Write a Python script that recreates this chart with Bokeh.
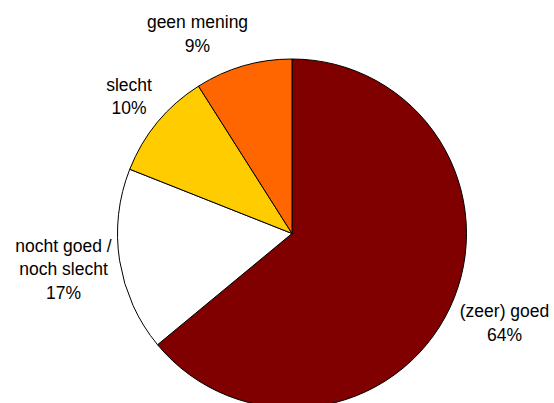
import math
from bokeh.plotting import figure
from bokeh.models import ColumnDataSource, Range1d
from bokeh.core.properties import value
from bokeh.embed import file_html
from bokeh.resources import INLINE

# data
categories = ["(zeer) goed", "nocht goed /\nnoch slecht", "slecht", "geen mening"]
percentages = [64, 17, 10, 9]
colors = ["#800000", "#FFFFFF", "#FFCC00", "#FF6600"]

# layout (screen-pixel based, plot is 1 unit per pixel)
W, H = 554, 403
cx, cy, r = 291.5, 170.0, 174.5
label_anchor = [(504, 92.5), (63, 158), (128.5, 319), (197, 381.5)]
line_h = 23.8

total = float(sum(percentages))
starts, ends = [], []
cum = 0.0
for v in percentages:
    starts.append(math.pi / 2 - 2 * math.pi * cum / total)
    cum += v
    ends.append(math.pi / 2 - 2 * math.pi * cum / total)

p = figure(width=W, height=H, output_backend="svg", toolbar_location=None,
           x_range=Range1d(0, W), y_range=Range1d(0, H), min_border=0)
p.axis.visible = False
p.grid.visible = False
p.outline_line_color = None
p.background_fill_color = "white"
p.border_fill_color = "white"

src = ColumnDataSource(dict(start=starts, end=ends, color=colors))
p.wedge(x=cx, y=cy, radius=r, start_angle="start", end_angle="end",
        direction="clock", fill_color="color", line_color="black",
        line_width=1, source=src)

tx, ty, tt = [], [], []
for cat, pct, (ax, ay) in zip(categories, percentages, label_anchor):
    lines = cat.split("\n") + [f"{pct}%"]
    for i, ln in enumerate(lines):
        tx.append(ax)
        ty.append(ay - i * line_h)
        tt.append(ln)
p.text(x=tx, y=ty, text=tt, text_align="center", text_baseline="alphabetic",
       text_font=value("Liberation Sans"), text_font_size="17.5px",
       text_color="#000000")

open("out.html", "w").write(file_html(p, INLINE))
